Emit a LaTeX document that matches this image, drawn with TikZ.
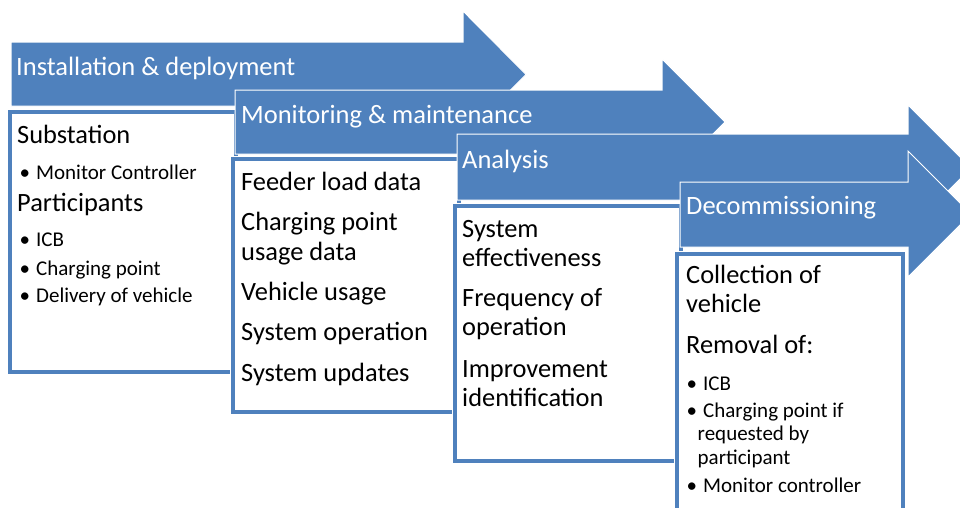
\documentclass[tikz,border=0pt]{standalone}
\usepackage{fontspec}
\setmainfont{Carlito}
\usepackage{xcolor}
\definecolor{stageblue}{HTML}{4F81BD}
\newcommand{\stagebullet}{\makebox[16.5pt][l]{\textbullet}}

\begin{document}
\begin{tikzpicture}[x=1pt,y=-1pt,
  stage arrow/.style={fill=stageblue,draw=white,line width=1pt,line join=miter},
  stage box/.style={fill=white,draw=white,double=stageblue,double distance=4pt,line width=0.8pt},
  title text/.style={anchor=base west,inner sep=0pt,text=white,font=\fontsize{26.5}{30}\selectfont},
  body text/.style={anchor=base west,inner sep=0pt,font=\fontsize{26.4}{30}\selectfont},
  bullet text/.style={anchor=base west,inner sep=0pt,font=\fontsize{21}{24}\selectfont}]
  \clip (0,0) rectangle (960,507);

  % stage 1
  \draw[stage arrow] (11,42) -- (463,42) -- (463,11) -- (526,74.5) -- (463,138) -- (463,106) -- (11,106) -- cycle;
  \node[title text] (t1) at (16,75) {Installation \& deployment};
  \draw[stage box] (10,112) rectangle (236,372);
  \node[body text] (a1) at (17,143.3) {Substation};
  \node[bullet text] (a2) at (19.5,179.3) {\stagebullet Monitor Controller};
  \node[body text] (a3) at (17,211) {Participants};
  \node[bullet text] (a4) at (19.5,246.7) {\stagebullet ICB};
  \node[bullet text] (a5) at (19.5,275) {\stagebullet Charging point};
  \node[bullet text] (a6) at (19.5,302) {\stagebullet Delivery of vehicle};

  % stage 2
  \draw[stage arrow] (235,90) -- (662,90) -- (662,59) -- (725,122) -- (662,185) -- (662,154) -- (235,154) -- cycle;
  \node[title text] (t2) at (241,123) {Monitoring \& maintenance};
  \draw[stage box] (233,159) rectangle (459,412);
  \node[body text] (b1) at (241,190) {Feeder load data};
  \node[body text] (b2) at (241,230) {Charging point};
  \node[body text] (b3) at (241,260) {usage data};
  \node[body text] (b4) at (241,300.7) {Vehicle usage};
  \node[body text] (b5) at (241,340.7) {System operation};
  \node[body text] (b6) at (241,381.7) {System updates};

  % stage 3
  \draw[stage arrow] (457,134) -- (908,134) -- (908,105) -- (971,168) -- (908,231) -- (908,200) -- (457,200) -- cycle;
  \node[title text] (t3) at (462,168) {Analysis};
  \draw[stage box] (455,206) rectangle (681,461);
  \node[body text] (c1) at (462,237.3) {System};
  \node[body text] (c2) at (462,266) {effectiveness};
  \node[body text] (c3) at (462,306.7) {Frequency of};
  \node[body text] (c4) at (462,335) {operation};
  \node[body text] (c5) at (462,377.3) {Improvement};
  \node[body text] (c6) at (462,406) {identification};

  % stage 4
  \draw[stage arrow] (680,182) -- (908,182) -- (908,151) -- (971,214) -- (908,277) -- (908,247) -- (680,247) -- cycle;
  \node[title text] (t4) at (686,214.3) {Decommissioning};
  \draw[stage box] (677,254) rectangle (903,540);
  \node[body text] (d1) at (686,283.3) {Collection of};
  \node[body text] (d2) at (686,312.3) {vehicle};
  \node[body text] (d3) at (686,353.3) {Removal of:};
  \node[bullet text] (d4) at (686.5,390) {\stagebullet ICB};
  \node[bullet text] (d5) at (686.5,417.3) {\stagebullet Charging point if};
  \node[bullet text] (d6) at (697.5,440.7) {requested by};
  \node[bullet text] (d7) at (697.5,464) {participant};
  \node[bullet text] (d8) at (686.5,492.3) {\stagebullet Monitor controller};
\end{tikzpicture}
\end{document}
